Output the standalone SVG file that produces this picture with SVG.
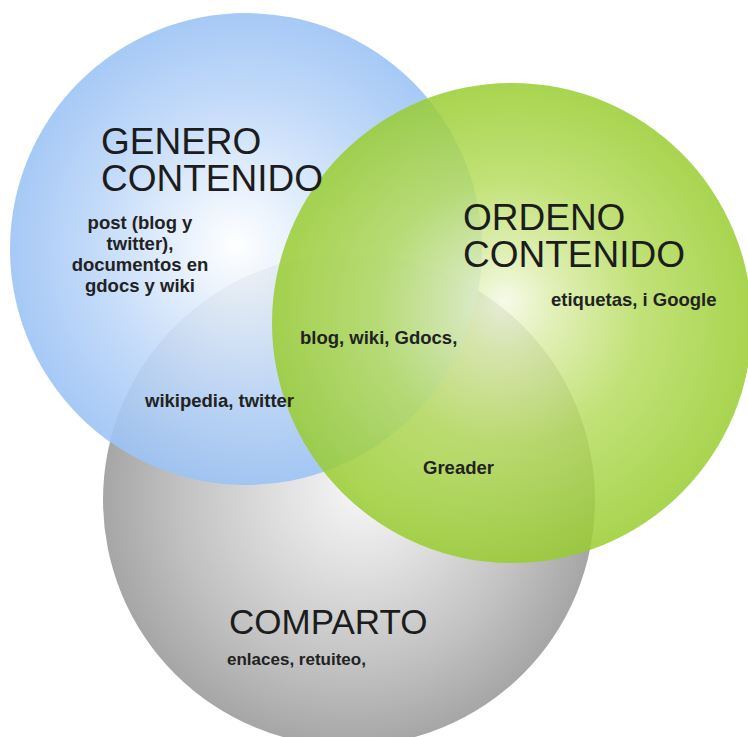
<svg xmlns="http://www.w3.org/2000/svg" width="748" height="737" viewBox="0 0 748 737">
  <style>
    .title { font-family: "Liberation Sans", Arial, Helvetica, sans-serif; font-size: 37px; fill: #1c1c1c; }
    .small { font-family: "Liberation Sans", Arial, Helvetica, sans-serif; font-size: 18.5px; font-weight: bold; fill: #222222; }
  </style>
  <defs>
    <radialGradient id="gBlue" gradientUnits="userSpaceOnUse" cx="246" cy="249" r="236" fx="235" fy="245">
      <stop offset="0" stop-color="#ffffff"/>
      <stop offset="0.25" stop-color="#e4effc"/>
      <stop offset="0.6" stop-color="#bfd8f9"/>
      <stop offset="1" stop-color="#9cc3f5"/>
    </radialGradient>
    <radialGradient id="gGreen" gradientUnits="userSpaceOnUse" cx="512" cy="323" r="240" fx="505" fy="300">
      <stop offset="0" stop-color="#f4f9e4"/>
      <stop offset="0.2" stop-color="#dcedaa"/>
      <stop offset="0.55" stop-color="#b6dc5e"/>
      <stop offset="1" stop-color="#98cc2e"/>
    </radialGradient>
    <radialGradient id="gGray" gradientUnits="userSpaceOnUse" cx="349" cy="500" r="246" fx="365" fy="485">
      <stop offset="0" stop-color="#f8f8f8"/>
      <stop offset="0.3" stop-color="#e2e2e2"/>
      <stop offset="0.7" stop-color="#c2c2c2"/>
      <stop offset="1" stop-color="#a6a6a6"/>
    </radialGradient>
  </defs>
  <rect width="748" height="737" fill="#ffffff"/>
  <g id="comparto">
    <circle cx="349" cy="500" r="246" fill="url(#gGray)"/>
  </g>
  <g id="genero">
    <circle cx="246" cy="249" r="236" fill="url(#gBlue)" opacity="0.9"/>
  </g>
  <g id="ordeno">
    <circle cx="512" cy="323" r="240" fill="url(#gGreen)" opacity="0.84"/>
  </g>
  <g id="connectors"></g>
  <g id="genero-label">
    <text class="title"><tspan x="101" y="154">GENERO</tspan><tspan x="101" y="191">CONTENIDO</tspan></text>
    <text class="small" text-anchor="middle"><tspan x="140" y="229">post (blog y</tspan><tspan x="140" y="250">twitter),</tspan><tspan x="140" y="271">documentos en</tspan><tspan x="140" y="292">gdocs y wiki</tspan></text>
  </g>
  <g id="ordeno-label">
    <text class="title"><tspan x="463" y="230">ORDENO</tspan><tspan x="463" y="267">CONTENIDO</tspan></text>
    <text class="small" x="551" y="306">etiquetas, i Google</text>
  </g>
  <g id="comparto-label">
    <text class="title" x="229" y="634" style="font-size:35px">COMPARTO</text>
    <text class="small" x="227" y="665" style="font-size:17px">enlaces, retuiteo,</text>
  </g>
  <g id="overlap-labels">
    <text class="small" x="300" y="344">blog, wiki, Gdocs,</text>
    <text class="small" x="145" y="407">wikipedia, twitter</text>
    <text class="small" x="423" y="474">Greader</text>
  </g>
</svg>
